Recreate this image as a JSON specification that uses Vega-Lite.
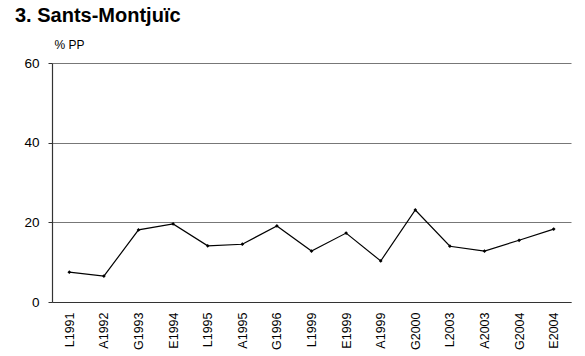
{
  "$schema": "https://vega.github.io/schema/vega-lite/v6.json",
  "autosize": "none",
  "width": 519,
  "height": 239,
  "padding": {"left": 52, "top": 63, "right": 14, "bottom": 54},
  "background": "white",
  "title": {
    "text": "3. Sants-Montjuïc",
    "anchor": "start",
    "frame": "group",
    "font": "Liberation Sans",
    "fontSize": 20,
    "fontWeight": "bold",
    "color": "black",
    "dx": -37,
    "offset": 12
  },
  "data": {
    "values": [
      {"election": "L1991", "pct": 7.5},
      {"election": "A1992", "pct": 6.5},
      {"election": "G1993", "pct": 18.1},
      {"election": "E1994", "pct": 19.6},
      {"election": "L1995", "pct": 14.1},
      {"election": "A1995", "pct": 14.5},
      {"election": "G1996", "pct": 19.1},
      {"election": "L1999", "pct": 12.8},
      {"election": "E1999", "pct": 17.3},
      {"election": "A1999", "pct": 10.3},
      {"election": "G2000", "pct": 23.1},
      {"election": "L2003", "pct": 14.0},
      {"election": "A2003", "pct": 12.8},
      {"election": "G2004", "pct": 15.5},
      {"election": "E2004", "pct": 18.3}
    ]
  },
  "config": {
    "view": {"stroke": null},
    "font": "Liberation Sans"
  },
  "encoding": {
    "x": {
      "field": "election",
      "type": "ordinal",
      "sort": null,
      "scale": {"type": "point", "padding": 0.5},
      "axis": {
        "title": null,
        "labelAngle": -90,
        "labelFontSize": 12.5,
        "labelColor": "black",
        "labelPadding": 10,
        "ticks": false,
        "domainColor": "#333333",
        "domainWidth": 1.2,
        "grid": false
      }
    },
    "y": {
      "field": "pct",
      "type": "quantitative",
      "scale": {"domain": [0, 60], "nice": false},
      "axis": {
        "values": [0, 20, 40, 60],
        "title": "% PP",
        "titleAngle": 0,
        "titleAlign": "left",
        "titleBaseline": "bottom",
        "titleX": 2,
        "titleY": -12,
        "titleFontSize": 12,
        "titleFontWeight": "normal",
        "titleColor": "black",
        "labelFontSize": 13.5,
        "labelColor": "black",
        "labelPadding": 9,
        "tickSize": 4,
        "tickColor": "#333333",
        "domainColor": "#333333",
        "domainWidth": 1.2,
        "grid": true,
        "gridColor": "#777777",
        "gridWidth": 1
      }
    }
  },
  "layer": [
    {"mark": {"type": "line", "color": "black", "strokeWidth": 1.2}},
    {"mark": {"type": "point", "shape": "diamond", "filled": true, "color": "black", "size": 14, "opacity": 1}}
  ]
}
